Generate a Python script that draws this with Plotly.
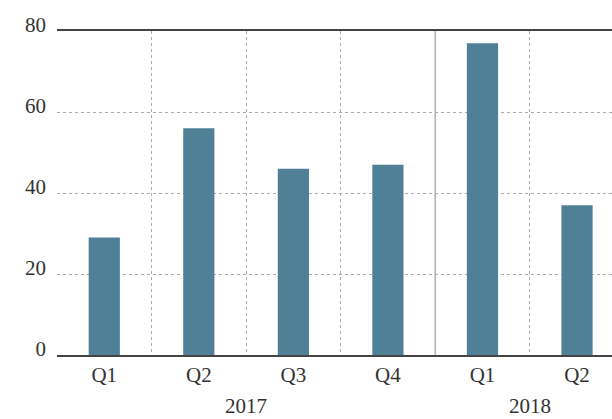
import plotly.graph_objects as go

years = ["2017", "2017", "2017", "2017", "2018", "2018"]
quarters = ["Q1", "Q2", "Q3", "Q4", "Q1", "Q2"]
values = [29, 56, 46, 47, 77, 37]
y_ticks = [0, 20, 40, 60, 80]

bar_color = "#4f8096"
text_color = "#333333"
font_family = "Liberation Serif, DejaVu Serif, serif"
label_font = dict(family=font_family, size=21, color=text_color)

# Unique category keys per bar; the quarter names are shown as tick text
keys = [f"{y} {q}" for y, q in zip(years, quarters)]

fig = go.Figure(
    go.Bar(
        x=keys,
        y=values,
        marker=dict(color=bar_color, line=dict(width=0)),
        width=0.33,
    )
)

fig.update_layout(
    width=612,
    height=419,
    margin=dict(l=57, r=0, t=31, b=64),
    paper_bgcolor="white",
    plot_bgcolor="white",
    showlegend=False,
    font=label_font,
    xaxis=dict(
        type="category",
        categoryorder="array",
        categoryarray=keys,
        tickvals=keys,
        ticktext=quarters,
        range=[-0.5, len(keys) - 0.63],
        tickson="boundaries",
        tickfont=label_font,
        showgrid=True,
        gridcolor="#aaaaaa",
        griddash="dot",
        gridwidth=1,
        showline=True,
        linecolor="#444444",
        linewidth=1.5,
        mirror=True,
        ticks="",
    ),
    yaxis=dict(
        range=[y_ticks[0], y_ticks[-1]],
        tickvals=y_ticks,
        tickfont=label_font,
        showgrid=True,
        gridcolor="#aaaaaa",
        griddash="dot",
        gridwidth=1,
        zeroline=False,
        showline=False,
        ticks="",
        ticklabelstandoff=10,
        ticklabelshift=-6,
    ),
)

# Year group labels under the quarter labels, plus a solid separator between years
year_order = list(dict.fromkeys(years))
for yr in year_order:
    idx = [i for i, y in enumerate(years) if y == yr]
    fig.add_annotation(
        x=sum(idx) / len(idx),
        xref="x",
        y=0,
        yref="paper",
        yanchor="top",
        yshift=-38,
        text=yr,
        showarrow=False,
        font=label_font,
        borderpad=0,
    )
for yr in year_order[1:]:
    boundary = years.index(yr) - 0.5
    fig.add_shape(
        type="line",
        xref="x",
        yref="y",
        x0=boundary,
        x1=boundary,
        y0=y_ticks[0],
        y1=y_ticks[-1],
        line=dict(color="#b5b5b5", width=1.5),
        layer="above",
    )

fig.write_html("out.html")
